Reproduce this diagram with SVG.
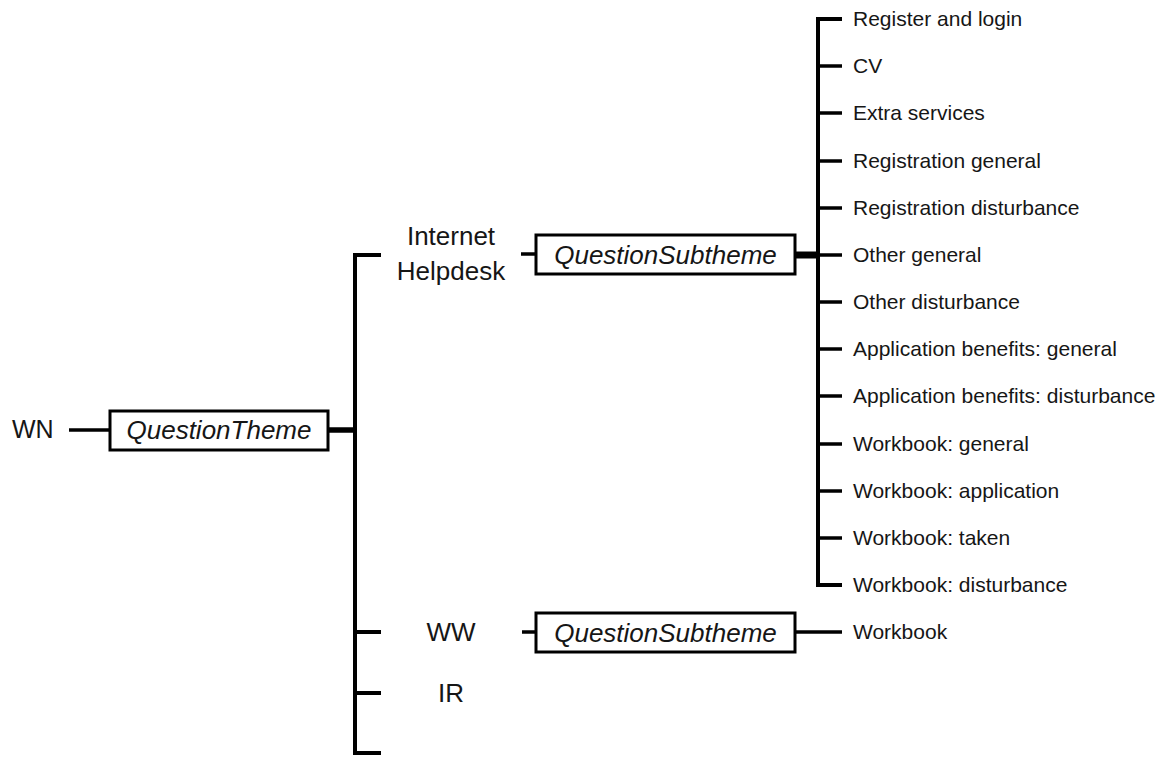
<svg xmlns="http://www.w3.org/2000/svg" width="1174" height="758" viewBox="0 0 1174 758">
  <style>
    .bg { fill: #ffffff; }
    .box { fill: #ffffff; stroke: #000000; stroke-width: 3; }
    .wire { fill: none; stroke: #000000; stroke-width: 4; }
    .stub { fill: none; stroke: #000000; stroke-width: 3.5; }
    .trunk { fill: none; stroke: #000000; stroke-width: 5.5; }
    .lbl { font-family: "Liberation Sans", Arial, sans-serif; fill: #161616; }
    .main { font-size: 26px; text-anchor: middle; }
    .root { font-size: 25px; }
    .typ { font-size: 26px; font-style: italic; text-anchor: middle; }
    .leaf { font-size: 21px; }
  </style>
  <rect class="bg" x="0" y="0" width="1174" height="758"/>

  <!-- connectors -->
  <g id="connectors">
    <!-- WN to QuestionTheme -->
    <line class="stub" x1="69" y1="430" x2="110" y2="430"/>
    <line class="trunk" x1="328" y1="430" x2="355" y2="430"/>
    <!-- theme bus -->
    <path class="wire" d="M381,255 H355 V753 H381"/>
    <line class="wire" x1="355" y1="632" x2="381" y2="632"/>
    <line class="wire" x1="355" y1="693" x2="381" y2="693"/>
    <!-- Internet Helpdesk to subtheme -->
    <line class="stub" x1="521" y1="254" x2="536" y2="254"/>
    <line class="trunk" x1="795" y1="255" x2="818" y2="255" style="stroke-width:7"/>
    <!-- subtheme bus -->
    <path class="wire" d="M842,19 H818 V585 H842"/>
    <g class="stub">
      <line x1="818" y1="66" x2="842" y2="66"/>
      <line x1="818" y1="113" x2="842" y2="113"/>
      <line x1="818" y1="161" x2="842" y2="161"/>
      <line x1="818" y1="208" x2="842" y2="208"/>
      <line x1="818" y1="255" x2="842" y2="255"/>
      <line x1="818" y1="302" x2="842" y2="302"/>
      <line x1="818" y1="349" x2="842" y2="349"/>
      <line x1="818" y1="396" x2="842" y2="396"/>
      <line x1="818" y1="444" x2="842" y2="444"/>
      <line x1="818" y1="491" x2="842" y2="491"/>
      <line x1="818" y1="538" x2="842" y2="538"/>
    </g>
    <!-- WW to subtheme to Workbook -->
    <line class="stub" x1="522" y1="632" x2="536" y2="632"/>
    <line class="stub" x1="795" y1="632" x2="842" y2="632"/>
  </g>

  <g id="node-wn">
    <text class="lbl root" x="12" y="438">WN</text>
  </g>

  <g id="node-questiontheme">
    <rect class="box" x="110" y="411" width="218" height="39"/>
    <text class="lbl typ" x="219" y="439">QuestionTheme</text>
  </g>

  <g id="node-internet-helpdesk">
    <text class="lbl main" x="451" y="245">Internet</text>
    <text class="lbl main" x="451" y="280">Helpdesk</text>
  </g>

  <g id="node-subtheme-ih">
    <rect class="box" x="536" y="235" width="259" height="39"/>
    <text class="lbl typ" x="665.5" y="264">QuestionSubtheme</text>
  </g>

  <g id="node-ww">
    <text class="lbl main" x="451" y="641">WW</text>
  </g>

  <g id="node-subtheme-ww">
    <rect class="box" x="536" y="613" width="259" height="39"/>
    <text class="lbl typ" x="665.5" y="642">QuestionSubtheme</text>
  </g>

  <g id="node-ir">
    <text class="lbl main" x="451" y="702">IR</text>
  </g>

  <g id="leaves-ih">
    <text class="lbl leaf" x="853" y="26">Register and login</text>
    <text class="lbl leaf" x="853" y="73">CV</text>
    <text class="lbl leaf" x="853" y="120">Extra services</text>
    <text class="lbl leaf" x="853" y="168">Registration general</text>
    <text class="lbl leaf" x="853" y="215">Registration disturbance</text>
    <text class="lbl leaf" x="853" y="262">Other general</text>
    <text class="lbl leaf" x="853" y="309">Other disturbance</text>
    <text class="lbl leaf" x="853" y="356">Application benefits: general</text>
    <text class="lbl leaf" x="853" y="403">Application benefits: disturbance</text>
    <text class="lbl leaf" x="853" y="451">Workbook: general</text>
    <text class="lbl leaf" x="853" y="498">Workbook: application</text>
    <text class="lbl leaf" x="853" y="545">Workbook: taken</text>
    <text class="lbl leaf" x="853" y="592">Workbook: disturbance</text>
  </g>

  <g id="leaves-ww">
    <text class="lbl leaf" x="853" y="639">Workbook</text>
  </g>
</svg>
